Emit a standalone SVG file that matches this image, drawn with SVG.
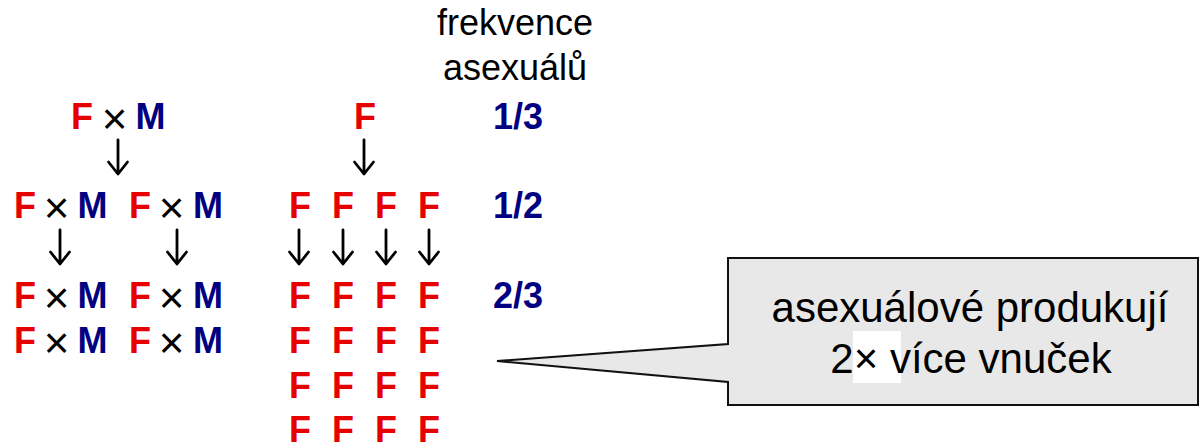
<svg xmlns="http://www.w3.org/2000/svg" width="1200" height="443" viewBox="0 0 1200 443">
<style>
text{font-family:"Liberation Sans",Arial,sans-serif;text-anchor:middle}
.f{fill:#e60000;font-weight:bold;font-size:36px}
.m{fill:#000080;font-weight:bold;font-size:36px}
.x{fill:#000;font-size:44px}
.q{fill:#000080;font-weight:bold;font-size:36px}
.h{fill:#000;font-size:36px}
.c{fill:#000;font-size:42px}
.arr{fill:none;stroke:#000;stroke-width:2.8;stroke-linecap:round;stroke-linejoin:round}
</style>
<rect width="1200" height="443" fill="#fff"/>
<g id="header"><text class="h" x="515" y="35">frekvence</text><text class="h" x="515" y="80">asexuálů</text></g>
<g id="sex-gen1"><text class="f" x="82" y="129">F</text><text class="x" x="114.5" y="134">×</text><text class="m" x="150.5" y="129">M</text></g>
<g id="sex-gen2">
<text class="f" x="25" y="218">F</text><text class="x" x="56.5" y="223">×</text><text class="m" x="92.5" y="218">M</text>
<text class="f" x="140" y="218">F</text><text class="x" x="171.5" y="223">×</text><text class="m" x="208" y="218">M</text>
</g>
<g id="sex-gen3">
<text class="f" x="25" y="308">F</text><text class="x" x="56.5" y="313">×</text><text class="m" x="92.5" y="308">M</text>
<text class="f" x="140" y="308">F</text><text class="x" x="171.5" y="313">×</text><text class="m" x="208" y="308">M</text>
<text class="f" x="25" y="353">F</text><text class="x" x="56.5" y="358">×</text><text class="m" x="92.5" y="353">M</text>
<text class="f" x="140" y="353">F</text><text class="x" x="171.5" y="358">×</text><text class="m" x="208" y="353">M</text>
</g>
<g id="asex-gen1"><text class="f" x="365" y="129">F</text></g>
<g id="asex-gen2">
<text class="f" x="300" y="218">F</text><text class="f" x="343" y="218">F</text><text class="f" x="386" y="218">F</text><text class="f" x="429" y="218">F</text>
</g>
<g id="asex-gen3">
<text class="f" x="300" y="308">F</text><text class="f" x="343" y="308">F</text><text class="f" x="386" y="308">F</text><text class="f" x="429" y="308">F</text>
<text class="f" x="300" y="353">F</text><text class="f" x="343" y="353">F</text><text class="f" x="386" y="353">F</text><text class="f" x="429" y="353">F</text>
<text class="f" x="300" y="398">F</text><text class="f" x="343" y="398">F</text><text class="f" x="386" y="398">F</text><text class="f" x="429" y="398">F</text>
<text class="f" x="300" y="442">F</text><text class="f" x="343" y="442">F</text><text class="f" x="386" y="442">F</text><text class="f" x="429" y="442">F</text>
</g>
<g id="freq">
<text class="q" x="518" y="129">1/3</text>
<text class="q" x="518" y="218">1/2</text>
<text class="q" x="518" y="308">2/3</text>
</g>
<g id="connectors" class="arr">
<path d="M118,140V174M108.5,162L118,174L127.5,162"/>
<path d="M60,230V264M50.5,252L60,264L69.5,252"/>
<path d="M177,230V264M167.5,252L177,264L186.5,252"/>
<path d="M364,140V174M354.5,162L364,174L373.5,162"/>
<path d="M299,230V264M289.5,252L299,264L308.5,252"/>
<path d="M343,230V264M333.5,252L343,264L352.5,252"/>
<path d="M386,230V264M376.5,252L386,264L395.5,252"/>
<path d="M429,230V264M419.5,252L429,264L438.5,252"/>
</g>
<g id="callout">
<path d="M728,258H1198V405H728V382L497,361L728,344Z" fill="#e8e8e8" stroke="#111" stroke-width="2"/>
<rect x="853" y="331" width="48" height="52" fill="#fff"/>
<text class="c" x="970" y="322">asexuálové produkují</text>
<text class="c" x="971" y="373">2× více vnuček</text>
</g>
</svg>
